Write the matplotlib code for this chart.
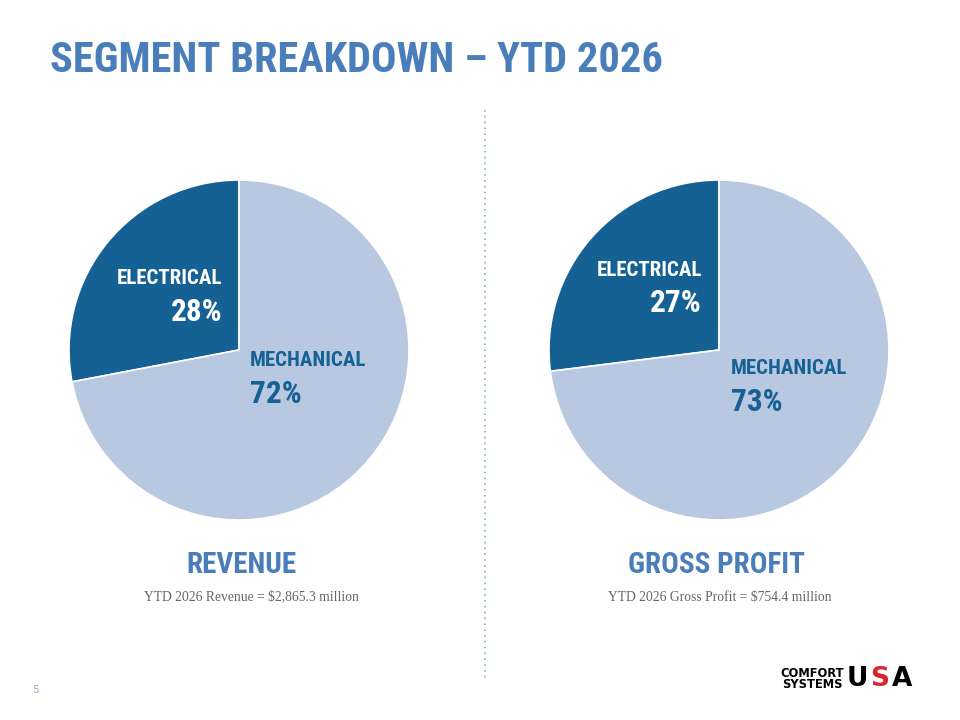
import matplotlib
matplotlib.use("Agg")
import matplotlib.pyplot as plt
from matplotlib.lines import Line2D

# =============================================================================
# DATA
# =============================================================================

segments      = ["ELECTRICAL", "MECHANICAL"]
revenue_pct   = [28, 72]
profit_pct    = [27, 73]
chart_titles  = ["REVENUE", "GROSS PROFIT"]
chart_notes   = ["YTD 2026 Revenue = $2,865.3 million",
                 "YTD 2026 Gross Profit = $754.4 million"]
page_title    = "SEGMENT BREAKDOWN \u2013 YTD 2026"

# =============================================================================
# STYLE
# =============================================================================

DARK   = "#156194"
LIGHT  = "#B9C8E1"
TITLE  = "#4A7EBB"
GRAY   = "#666666"
COND   = ["Roboto Condensed", "Roboto", "DejaVu Sans"]

W, H = 960, 720
fig = plt.figure(figsize=(W / 100, H / 100), dpi=100)
fig.patch.set_facecolor("white")


def px(x, y):
    return x / W, 1 - y / H


fig.text(*px(50, 61), page_title, family=COND, weight="bold", fontsize=30.5,
         color=TITLE, ha="left", va="center")

# dotted divider
fig.add_artist(Line2D([485 / W, 485 / W], [1 - 110 / H, 1 - 680 / H],
                      transform=fig.transFigure, color="#7FB3B5",
                      linewidth=1.2, linestyle=(0, (1, 2.5))))

# =============================================================================
# PIES
# =============================================================================

centres = [239, 719]
label_pos = [
    # (electrical right edge x, y name, y pct), (mechanical left x, y name, y pct)
    ((222, 279, 312), (250, 361, 394)),
    ((702, 270, 303), (731, 369, 402)),
]
title_x = [241, 717]
note_x = [251, 720]
R = 170

for i, vals in enumerate([revenue_pct, profit_pct]):
    cx = centres[i]
    ax = fig.add_axes([(cx - R) / W, (H - 350 - R) / H, 2 * R / W, 2 * R / H])
    ax.pie(vals, colors=[DARK, LIGHT], startangle=90, counterclock=True,
           wedgeprops=dict(edgecolor="white", linewidth=1.2))
    ax.set_xlim(-1, 1)
    ax.set_ylim(-1, 1)
    ax.set_aspect("auto")
    ax.axis("off")

    (ex, ey1, ey2), (mx, my1, my2) = label_pos[i]
    fig.text(*px(ex, ey1), segments[0], family=COND, weight="bold",
             fontsize=15, color="white", ha="right", va="center")
    fig.text(*px(ex, ey2), f"{vals[0]}%", family=COND, weight="bold",
             fontsize=22.5, color="white", ha="right", va="center")
    fig.text(*px(mx, my1), segments[1], family=COND, weight="bold",
             fontsize=15, color=DARK, ha="left", va="center")
    fig.text(*px(mx, my2), f"{vals[1]}%", family=COND, weight="bold",
             fontsize=22.5, color=DARK, ha="left", va="center")

    fig.text(*px(title_x[i], 565), chart_titles[i], family=COND, weight="bold",
             fontsize=21, color=TITLE, ha="center", va="center")
    fig.text(*px(note_x[i], 597), chart_notes[i],
             family=["Roboto Slab", "Liberation Serif"],
             fontsize=9.8, color=GRAY, ha="center", va="center")

# page number
fig.text(*px(35, 690), "5", family="Roboto", fontsize=8, color="#8EA6C8",
         ha="center", va="center")

# logo
fig.text(*px(812, 679), "COMFORT\nSYSTEMS", family="DejaVu Sans", weight="heavy",
         fontsize=8.3, color="black", ha="center", va="center", linespacing=0.85)
fig.text(*px(847, 679), "U", family="DejaVu Sans", weight="heavy",
         fontsize=19, color="black", ha="left", va="center")
fig.text(*px(870, 679), "S", family="DejaVu Sans", weight="heavy",
         fontsize=19, color="#D7262E", ha="left", va="center")
fig.text(*px(892, 679), "A", family="DejaVu Sans", weight="heavy",
         fontsize=19, color="black", ha="left", va="center")

fig.savefig("out.png", dpi=100, facecolor="white")
